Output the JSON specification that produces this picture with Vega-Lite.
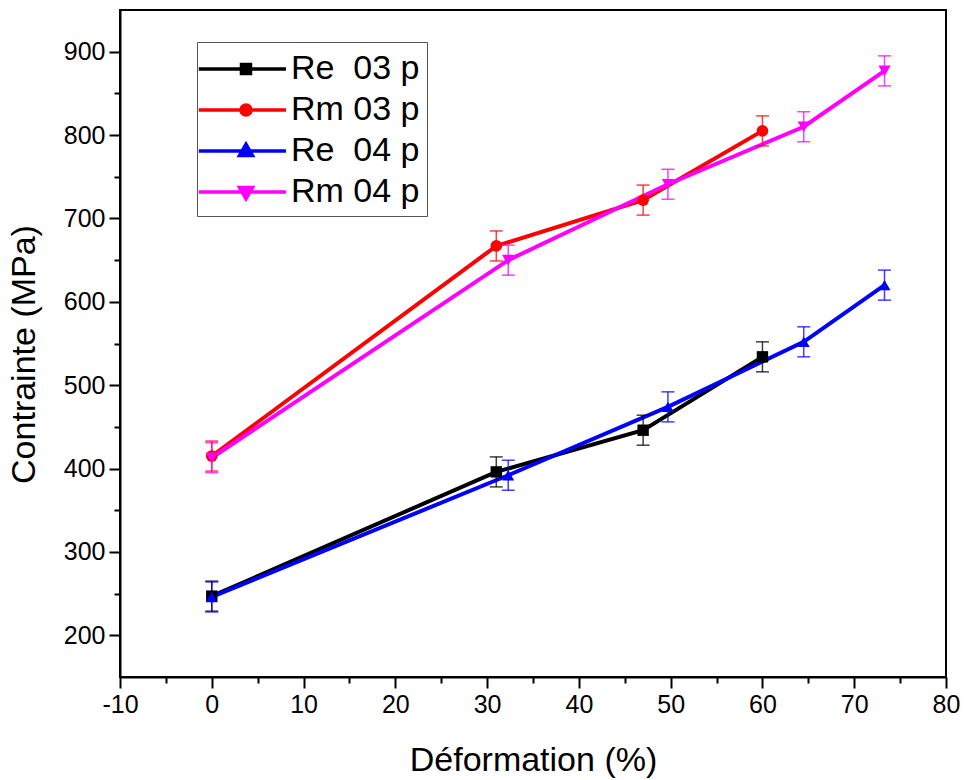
{
  "$schema": "https://vega.github.io/schema/vega-lite/v6.json",
  "width": 826,
  "height": 667,
  "autosize": {"type": "none"},
  "padding": {"left": 120, "top": 10, "right": 19, "bottom": 103},
  "background": "white",
  "config": {
    "view": {"stroke": "black", "strokeWidth": 2},
    "font": "Liberation Sans",
    "axis": {
      "domainColor": "black", "domainWidth": 2, "tickColor": "black", "tickWidth": 2,
      "labelColor": "black", "titleColor": "black", "labelFont": "Liberation Sans",
      "titleFont": "Liberation Sans", "grid": false, "labelFontSize": 25,
      "titleFontWeight": "normal", "labelFlush": false, "labelOverlap": false
    }
  },
  "data": {
    "values": [
      {"series": "Re \u00a003 p", "x": 0, "y": 247, "err": 18},
      {"series": "Re \u00a003 p", "x": 31, "y": 396, "err": 18},
      {"series": "Re \u00a003 p", "x": 47, "y": 446, "err": 18},
      {"series": "Re \u00a003 p", "x": 60, "y": 534, "err": 18},
      {"series": "Rm 03 p", "x": 0, "y": 415, "err": 18},
      {"series": "Rm 03 p", "x": 31, "y": 667, "err": 18},
      {"series": "Rm 03 p", "x": 47, "y": 722, "err": 18},
      {"series": "Rm 03 p", "x": 60, "y": 805, "err": 18},
      {"series": "Re \u00a004 p", "x": 0, "y": 246, "err": 18},
      {"series": "Re \u00a004 p", "x": 32.3, "y": 392, "err": 18},
      {"series": "Re \u00a004 p", "x": 49.7, "y": 474, "err": 18},
      {"series": "Re \u00a004 p", "x": 64.5, "y": 552, "err": 18},
      {"series": "Re \u00a004 p", "x": 73.3, "y": 620, "err": 18},
      {"series": "Rm 04 p", "x": 0, "y": 413, "err": 18},
      {"series": "Rm 04 p", "x": 32.3, "y": 650, "err": 18},
      {"series": "Rm 04 p", "x": 49.7, "y": 741, "err": 18},
      {"series": "Rm 04 p", "x": 64.5, "y": 810, "err": 18},
      {"series": "Rm 04 p", "x": 73.3, "y": 877, "err": 18}
    ]
  },
  "resolve": {"scale": {"shape": "independent", "fill": "independent", "stroke": "independent"}},
  "layer": [
    {
      "mark": {"type": "line", "strokeWidth": 4},
      "encoding": {
        "x": {
          "field": "x", "type": "quantitative", "title": "Déformation (%)",
          "scale": {"domain": [-10, 80], "nice": false, "zero": false},
          "axis": {
            "values": [-10, -5, 0, 5, 10, 15, 20, 25, 30, 35, 40, 45, 50, 55, 60, 65, 70, 75, 80],
            "labelExpr": "datum.value % 10 === 0 ? '' + datum.value : ''",
            "tickSize": {"condition": {"test": "datum.value % 10 === 0", "value": 11}, "value": 6},
            "labelPadding": 4,
            "title": "Déformation (%)", "titleFontSize": 34, "titlePadding": 26
          }
        },
        "y": {
          "field": "y", "type": "quantitative", "title": "Contrainte (MPa)",
          "scale": {"domain": [150, 950], "nice": false, "zero": false},
          "axis": {
            "values": [200, 250, 300, 350, 400, 450, 500, 550, 600, 650, 700, 750, 800, 850, 900],
            "labelExpr": "datum.value % 100 === 0 ? '' + datum.value : ''",
            "tickSize": {"condition": {"test": "datum.value % 100 === 0", "value": 11}, "value": 6},
            "labelPadding": 4,
            "title": "Contrainte (MPa)", "titleFontSize": 34, "titlePadding": 22, "titleY": 344
          }
        },
        "color": {
          "field": "series", "type": "nominal",
          "scale": {"domain": ["Re \u00a003 p", "Rm 03 p", "Re \u00a004 p", "Rm 04 p"], "range": ["#000000", "#ff0000", "#0000ff", "#ff00ff"]},
          "legend": null
        },
        "order": {"field": "x", "type": "quantitative"}
      }
    },
    {
      "mark": {"type": "errorbar", "ticks": {"size": 13}, "thickness": 1.5, "opacity": 0.75},
      "encoding": {
        "x": {"field": "x", "type": "quantitative", "title": "Déformation (%)"},
        "y": {"field": "y", "type": "quantitative", "title": "Contrainte (MPa)"},
        "yError": {"field": "err"},
        "color": {"field": "series", "type": "nominal", "legend": null}
      }
    },
    {
      "mark": {"type": "point", "filled": true, "opacity": 1},
      "encoding": {
        "x": {"field": "x", "type": "quantitative", "title": "Déformation (%)"},
        "y": {"field": "y", "type": "quantitative", "title": "Contrainte (MPa)"},
        "color": {"field": "series", "type": "nominal", "legend": null},
        "shape": {
          "field": "series", "type": "nominal",
          "scale": {"domain": ["Re \u00a003 p", "Rm 03 p", "Re \u00a004 p", "Rm 04 p"], "range": ["square", "circle", "triangle-up", "triangle-down"]},
          "legend": null
        },
        "size": {
          "field": "series", "type": "nominal",
          "scale": {"domain": ["Re \u00a003 p", "Rm 03 p", "Re \u00a004 p", "Rm 04 p"], "range": [130, 150, 210, 210]},
          "legend": null
        }
      }
    },
    {
      "mark": {"type": "point", "filled": true, "opacity": 0},
      "encoding": {
        "x": {"field": "x", "type": "quantitative", "title": "Déformation (%)"},
        "y": {"field": "y", "type": "quantitative", "title": "Contrainte (MPa)"},
        "fill": {
          "field": "series", "type": "nominal",
          "scale": {"domain": ["Re \u00a003 p", "Rm 03 p", "Re \u00a004 p", "Rm 04 p"], "range": ["#000000", "#ff0000", "#0000ff", "#ff00ff"]},
          "legend": {"title": null, "orient": "none", "legendX": 77, "legendY": 32, "symbolSize": 1296, "symbolStrokeWidth": 3.5, "symbolOpacity": 1, "labelFontSize": 34, "labelFont": "Liberation Sans", "labelColor": "black", "strokeColor": "#555555", "padding": 7, "rowPadding": 4, "labelOffset": 47, "labelLimit": 0}
        },
        "stroke": {
          "field": "series", "type": "nominal",
          "scale": {"domain": ["Re \u00a003 p", "Rm 03 p", "Re \u00a004 p", "Rm 04 p"], "range": ["#000000", "#ff0000", "#0000ff", "#ff00ff"]},
          "legend": {"title": null, "orient": "none", "legendX": 77, "legendY": 32, "symbolSize": 1296, "symbolStrokeWidth": 3.5, "symbolOpacity": 1, "labelFontSize": 34, "labelFont": "Liberation Sans", "labelColor": "black", "strokeColor": "#555555", "padding": 7, "rowPadding": 4, "labelOffset": 47, "labelLimit": 0}
        },
        "shape": {
          "field": "series", "type": "nominal",
          "scale": {
            "domain": ["Re \u00a003 p", "Rm 03 p", "Re \u00a004 p", "Rm 04 p"],
            "range": [
              "M-1.4,0H3.444M0.972,-0.25H1.472V0.25H0.972Z",
              "M-1.4,0H3.444M0.942,0A0.28,0.28 0 1,0 1.502,0A0.28,0.28 0 1,0 0.942,0Z",
              "M-1.4,0H3.444M0.862,0.25L1.582,0.25L1.222,-0.38Z",
              "M-1.4,0H3.444M0.862,-0.25L1.582,-0.25L1.222,0.38Z"
            ]
          },
          "legend": {"title": null, "orient": "none", "legendX": 77, "legendY": 32, "symbolSize": 1296, "symbolStrokeWidth": 3.5, "symbolOpacity": 1, "labelFontSize": 34, "labelFont": "Liberation Sans", "labelColor": "black", "strokeColor": "#555555", "padding": 7, "rowPadding": 4, "labelOffset": 47, "labelLimit": 0}
        }
      }
    }
  ]
}
